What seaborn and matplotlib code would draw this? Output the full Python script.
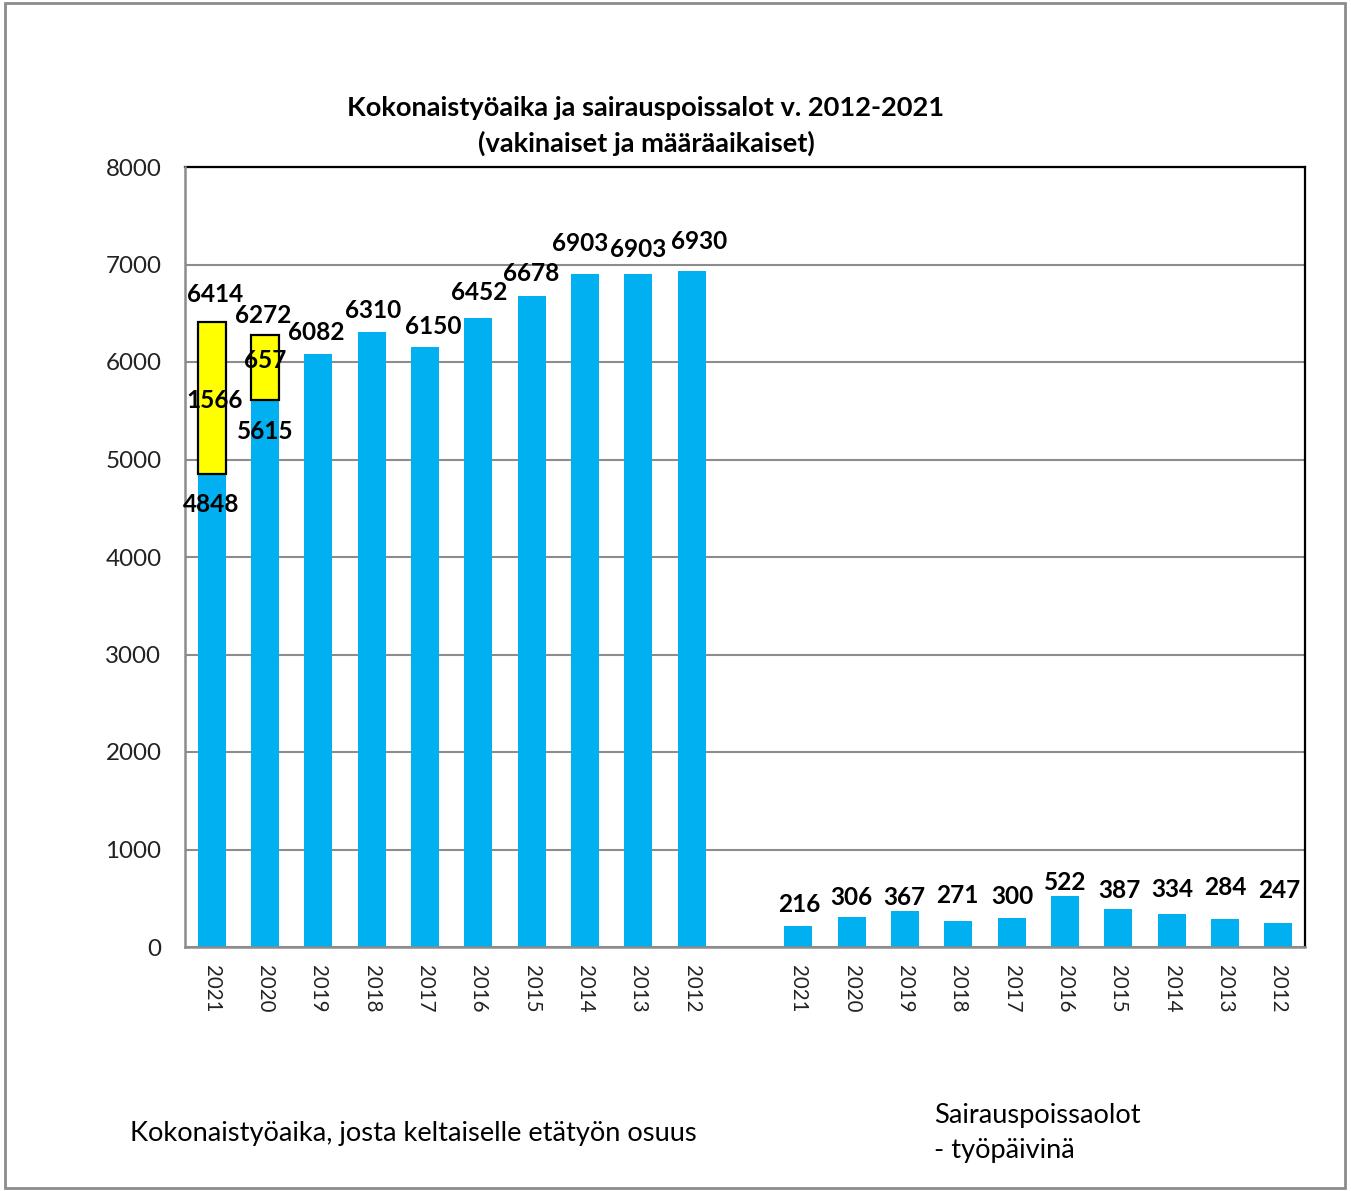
import matplotlib
matplotlib.use("Agg")
import matplotlib.pyplot as plt
import seaborn as sns
import pandas as pd
from matplotlib.patches import Rectangle

# ---------------- data ----------------
years = ["2021", "2020", "2019", "2018", "2017", "2016", "2015", "2014", "2013", "2012"]
total_hours = [6414, 6272, 6082, 6310, 6150, 6452, 6678, 6903, 6903, 6930]
remote_hours = [1566, 657, 0, 0, 0, 0, 0, 0, 0, 0]
sick_days = [216, 306, 367, 271, 300, 522, 387, 334, 284, 247]
y_ticks = [0, 1000, 2000, 3000, 4000, 5000, 6000, 7000, 8000]

title_text = "Kokonaistyöaika ja sairauspoissalot v. 2012-2021\n(vakinaiset ja määräaikaiset)"
left_note = "Kokonaistyöaika, josta keltaiselle etätyön osuus"
right_note = "Sairauspoissaolot\n- työpäivinä"

# label nudges (pixels) for top labels: dx, dy above bar top
top_dx = [3, -2, -2, 1, 8, 1, 0, -5, 0, 7, 1, 0, -1, -1, 1, 0, 1, 1, 0, 1]
top_dy = [27, 20, 22, 21, 21, 25, 22, 30, 24, 30, 21, 20, 14, 25, 21, 14, 19, 25, 32, 32]

# ---------------- build table ----------------
slots_a = ["a" + y for y in years]
slots_b = ["b" + y for y in years]
order = slots_a + ["gap"] + slots_b
base_hours = [t - r for t, r in zip(total_hours, remote_hours)]

df_blue = pd.DataFrame({"slot": slots_a + slots_b, "value": base_hours + sick_days})
rem_idx = [i for i, r in enumerate(remote_hours) if r > 0]
df_yellow = pd.DataFrame({"slot": [slots_a[i] for i in rem_idx],
                          "value": [remote_hours[i] for i in rem_idx]})
yellow_bottom = [base_hours[i] for i in rem_idx]

BLUE = "#00B0F0"
YELLOW = "#FFFF00"
GRID = "#8C8C8C"

sns.set_theme(style="white")
plt.rcParams["font.family"] = ["Lato", "DejaVu Sans"]

fig = plt.figure(figsize=(13.51, 11.91), dpi=100)
ax = fig.add_axes([185 / 1351, 1 - 947 / 1191, 1120 / 1351, 780 / 1191])

sns.barplot(data=df_blue, x="slot", y="value", order=order, color=BLUE,
            width=0.53, errorbar=None, saturation=1, ax=ax, linewidth=0, zorder=3)
sns.barplot(data=df_yellow, x="slot", y="value", order=order, color=YELLOW,
            width=0.53, errorbar=None, saturation=1, ax=ax, bottom=yellow_bottom,
            edgecolor="black", linewidth=1.6, zorder=4)

ax.set_ylim(0, 8000)
ax.set_xlim(-0.5, len(order) - 0.5)
ax.set_yticks(y_ticks)
ax.set_yticklabels([str(t) for t in y_ticks], fontsize=17.4, color="#222222")
ax.set_xticks(range(len(order)))
ax.set_xticklabels(years + [""] + years, rotation=270, fontsize=14.8, color="#222222")
ax.tick_params(axis="y", length=0, pad=17)
ax.tick_params(axis="x", length=0, pad=13)
ax.set_xlabel("")
ax.set_ylabel("")

ax.yaxis.grid(True, color=GRID, linewidth=1.5, zorder=0)
ax.set_axisbelow(True)
for side in ["top", "right"]:
    ax.spines[side].set_color("black")
    ax.spines[side].set_linewidth(1.6)
for side in ["left", "bottom"]:
    ax.spines[side].set_color(GRID)
    ax.spines[side].set_linewidth(1.8)
    ax.spines[side].set_zorder(5)

lab_kw = dict(fontsize=17.6, fontweight="bold", color="black", ha="center", va="center",
              textcoords="offset pixels", zorder=6)

# top labels
top_vals = total_hours + sick_days
top_pos = list(range(0, 10)) + list(range(11, 21))
for k, (pos, val) in enumerate(zip(top_pos, top_vals)):
    ax.annotate(str(val), xy=(pos, val), xytext=(top_dx[k], top_dy[k]), **lab_kw)

# stacked labels
for j, i in enumerate(rem_idx):
    b = base_hours[i]
    r = remote_hours[i]
    ax.annotate(str(b), xy=(i, b), xytext=(0, -30 if i == 0 else -32), **lab_kw)
    ax.annotate(str(r), xy=(i, b + r / 2), xytext=(3 if i == 0 else 0, -3 if i == 0 else 7), **lab_kw)

# title and notes
fig.text(646 / 1351, 1 - 126 / 1191, title_text, ha="center", va="center",
         fontsize=19.6, fontweight="bold", linespacing=1.55, color="black")
fig.text(130 / 1351, 1 - 1133 / 1191, left_note, ha="left", va="center",
         fontsize=19.6, color="black")
fig.text(934 / 1351, 1 - 1133 / 1191, right_note, ha="left", va="center",
         fontsize=19.6, color="black", linespacing=1.5)

# outer frame
fig.patches.append(Rectangle((5 / 1351, 3 / 1191), 1340 / 1351, 1185 / 1191,
                             transform=fig.transFigure, fill=False,
                             edgecolor="#8C8C8C", linewidth=2))

fig.savefig("out.png", dpi=100)
